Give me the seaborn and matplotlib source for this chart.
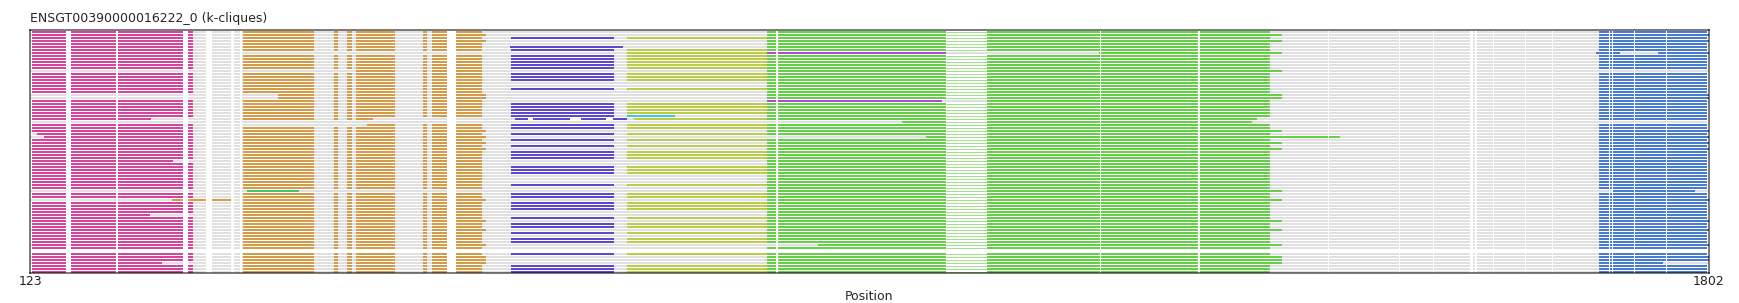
import matplotlib
matplotlib.use("Agg")
import matplotlib.pyplot as plt
import pandas as pd
import seaborn as sns

# ---------------- data (positions along the alignment) ----------------
TITLE = "ENSGT00390000016222_0 (k-cliques)"
X_LABEL = "Position"
X_TICKS = [123, 1802]
N_ROWS = 81

SEQ_SPAN = (125, 1800)
EXT_SPAN = (123, 1802)
EXT_ROWS = [1, 3, 7, 13, 21, 22, 33, 35, 37, 39, 53, 56, 63, 66, 71, 75, 76, 77]
EMPTY_ROWS = [73]

MAGENTA_BLOCK = (125, 286)
MAGENTA_GRAY_ROWS = [13, 21, 22, 30, 53, 56]
MAGENTA_SPAN = {29: (125, 244), 34: (130, 286), 35: (137, 286),
                43: (125, 266), 61: (125, 243), 77: (125, 255)}

ORANGE_PIECES = [(336, 407), (427, 431), (440, 445), (449, 488),
                 (516, 520), (525, 540), (549, 575)]
ORANGE_EXT_END = 579
ORANGE_GRAY_ROWS = [7, 30, 53]
ORANGE_SPAN = {13: (449, 575), 21: (371, 579), 22: (371, 579),
               29: (336, 466), 31: (460, 575)}

INDIGO_BLOCK = (604, 707)
INDIGO_ROWS = [2, 5, 6, 8, 9, 10, 11, 12, 14, 15, 16, 19, 24, 25, 26, 27, 28,
               29, 31, 32, 34, 36, 38, 40, 41, 42, 45, 46, 47, 51, 54, 55, 57,
               58, 59, 62, 64, 65, 67, 69, 70, 74, 78, 79, 80]
INDIGO_SPAN = {5: (603, 716), 29: (608, 720)}

YELLOW_BLOCK = (720, 860)
YELLOW_ROWS = [2, 6, 7, 8, 9, 10, 11, 12, 14, 15, 16, 19, 24, 25, 26, 27,
               29, 31, 32, 34, 36, 38, 40, 41, 42, 45, 46, 47, 51, 54, 55, 57,
               58, 59, 62, 64, 65, 67, 69, 70, 74, 78, 79, 80]
YELLOW_SPAN = {29: (727, 860)}

GREEN_BLOCKS = [(860, 1039), (1080, 1363)]
GREEN_THIN = (1039, 1080)
GREEN_EXT_END = 1375
GREEN_SPAN = {7: (1192, 1375), 23: (1053, 1363), 29: (860, 1350),
              30: (995, 1345), 35: (1019, 1433), 71: (911, 1375)}

BLUE_BLOCK = (1692, 1800)
BLUE_GRAY_ROWS = [13, 30]
BLUE_SPAN = {7: (1689, 1802), 53: (1706, 1788), 77: (1692, 1756)}

ACCENTS = [(7, 860, 1039, "violet"), (23, 860, 1035, "violet"),
           (28, 720, 768, "cyan"), (53, 340, 392, "teal"),
           (56, 265, 324, "orange"), (7, 1713, 1751, "gray"),
           (29, 621, 626, "white"), (29, 663, 674, "white"),
           (29, 699, 706, "white")]

WHITE_GAPS = [(159, 164), (209, 211), (276, 281), (299, 305), (324, 327),
              (333, 335), (540, 549), (869, 871), (1193, 1194), (1291, 1293),
              (1421, 1422), (1492, 1493), (1526, 1527), (1563, 1566),
              (1568, 1570), (1586, 1587), (1618, 1619), (1645, 1646),
              (1702, 1703), (1705, 1706), (1727, 1728), (1759, 1760)]

COLORS = {"gray": "#e0e0e0", "magenta": "#d6449c", "orange": "#d69b48",
          "indigo": "#5d48d0", "yellow": "#b9cd48", "green": "#66cf48",
          "blue": "#487cd0", "violet": "#b448d0", "cyan": "#44c8d0",
          "teal": "#3cc86e", "white": "#ffffff"}
LW = {"bar": 1.44, "thin": 0.45}

# ---------------- build segment table ----------------
segs = []


def add(row, x0, x1, color, lw="bar"):
    if x1 > x0:
        segs.append(dict(row=row, x0=x0, x1=x1, color=color, lw=lw))


for r in range(N_ROWS):
    if r in EMPTY_ROWS:
        continue
    ext = r in EXT_ROWS
    start, end = EXT_SPAN if ext else SEQ_SPAN
    add(r, start, end, "gray")
    # magenta
    if r not in MAGENTA_GRAY_ROWS:
        m0, m1 = MAGENTA_SPAN.get(r, MAGENTA_BLOCK)
        add(r, max(m0, start), m1, "magenta")
    # orange
    if r not in ORANGE_GRAY_ROWS:
        o0, o1 = ORANGE_SPAN.get(r, (ORANGE_PIECES[0][0],
                                     ORANGE_EXT_END if ext else ORANGE_PIECES[-1][1]))
        for i, (a, b) in enumerate(ORANGE_PIECES):
            if i == len(ORANGE_PIECES) - 1:
                b = max(b, o1)
            add(r, max(a, o0), min(b, o1), "orange")
    # indigo / yellow
    if r in INDIGO_ROWS:
        add(r, *INDIGO_SPAN.get(r, INDIGO_BLOCK), "indigo")
    if r in YELLOW_ROWS:
        add(r, *YELLOW_SPAN.get(r, YELLOW_BLOCK), "yellow")
    # green
    g0, g1 = GREEN_SPAN.get(r, (GREEN_BLOCKS[0][0],
                                GREEN_EXT_END if ext else GREEN_BLOCKS[1][1]))
    add(r, max(g0, GREEN_BLOCKS[0][0]), min(g1, GREEN_BLOCKS[0][1]), "green")
    add(r, max(g0, GREEN_BLOCKS[1][0]), g1, "green")
    if g0 <= GREEN_THIN[0] + 1:
        add(r, *GREEN_THIN, "white")
        add(r, *GREEN_THIN, "green", lw="thin")
    # blue
    if r not in BLUE_GRAY_ROWS:
        b0, b1 = BLUE_SPAN.get(r, (BLUE_BLOCK[0], end))
        add(r, b0, b1, "blue")

for r, a, b, c in ACCENTS:
    add(r, a, b, c)

for r in range(N_ROWS):
    if r in EMPTY_ROWS:
        continue
    for a, b in WHITE_GAPS:
        add(r, a, b, "white")

df = pd.DataFrame(segs)

# ---------------- draw ----------------
sns.set_theme(style="white")
plt.rcParams["font.family"] = ["DejaVu Sans"]

fig = plt.figure(figsize=(17.39, 3.03), dpi=100)
ax = fig.add_axes([30 / 1739, 1 - 273.3 / 303, 1679 / 1739, 243.3 / 303])

# segments drawn in table order so later rows of the table sit on top
ax.hlines(df["row"], df["x0"], df["x1"],
          colors=[COLORS[c] for c in df["color"]],
          linewidths=[LW[l] for l in df["lw"]], zorder=2)

ax.set_xlim(X_TICKS[0], X_TICKS[1])
ax.set_ylim(80.33, -0.77)
ax.set_xticks(X_TICKS)
ax.set_xticklabels([str(t) for t in X_TICKS])
ax.set_yticks([])
ax.tick_params(axis="x", length=0, pad=1.5, labelsize=9, colors="#222222")
ax.set_xlabel(X_LABEL, fontsize=9, labelpad=1)
ax.set_title(TITLE, loc="left", fontsize=9, pad=5.5)
for sp in ax.spines.values():
    sp.set_visible(True)
    sp.set_color((0, 0, 0, 0.57))
    sp.set_linewidth(1.3)
ax.grid(False)

fig.savefig("out.png", dpi=100)
